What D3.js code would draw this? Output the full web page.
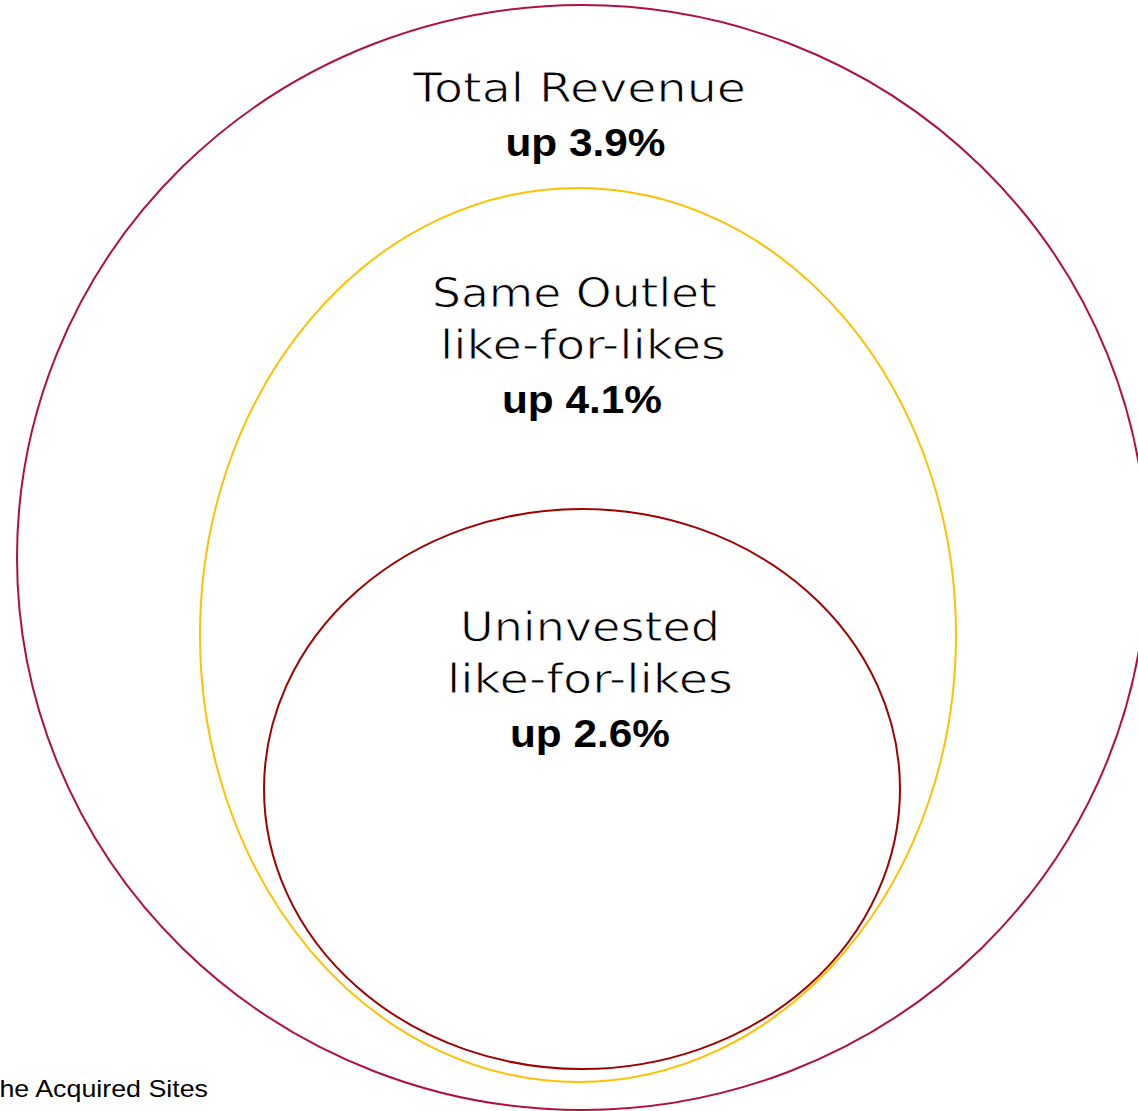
<!DOCTYPE html>
<html>
<head>
<meta charset="utf-8">
<script src="https://cdn.jsdelivr.net/npm/d3@7"></script>
<style>
  body { margin: 0; background: #fff; overflow: hidden; }
</style>
</head>
<body>
<div id="chart"></div>
<script>
// data
var groups = ["Total Revenue", "Same Outlet like-for-likes", "Uninvested like-for-likes"];
var labelLines = [["Total Revenue"], ["Same Outlet", "like-for-likes"], ["Uninvested", "like-for-likes"]];
var growth = [3.9, 4.1, 2.6];
var footnote = "the Acquired Sites";

var outerWidth = 1138;
var outerHeight = 1111;

// ellipse layout (pixels): cx, cy, rx, ry
var rings = [
  {cx: 582, cy: 557.5, rx: 565, ry: 552.5, color: "#b0103f"},
  {cx: 578, cy: 635, rx: 378, ry: 447, color: "#ffc000"},
  {cx: 582, cy: 789, rx: 318, ry: 280, color: "#a00000"}
];
// label layout: first baseline, centres and widths of each line
var labelTop = [102, 307, 641];
var lineCenter = [[579.5], [574.5, 583], [590, 590]];
var lineWidth = [[333], [285, 286], [260, 286]];
var upCenter = [585.5, 582, 590];
var upWidth = 160;

var svg = d3.select("#chart").append("svg")
  .attr("width", outerWidth).attr("height", outerHeight);

var pct = d3.format(".1f");

svg.selectAll("ellipse.ring")
  .data(rings)
  .join("ellipse")
  .attr("class", "ring")
  .attr("cx", function (d) { return d.cx; })
  .attr("cy", function (d) { return d.cy; })
  .attr("rx", function (d) { return d.rx; })
  .attr("ry", function (d) { return d.ry; })
  .style("fill", "none")
  .style("stroke", function (d) { return d.color; })
  .style("stroke-width", 2);

groups.forEach(function (name, i) {
  var g = svg.append("g").attr("class", "label");
  labelLines[i].forEach(function (line, j) {
    // thin wide face: white outline shaves the glyph stems a little
    g.append("text")
      .attr("x", lineCenter[i][j]).attr("y", labelTop[i] + j * 52)
      .attr("text-anchor", "middle")
      .attr("font-family", "DejaVu Sans")
      .attr("font-size", "40px")
      .attr("textLength", lineWidth[i][j])
      .attr("lengthAdjust", "spacingAndGlyphs")
      .attr("fill", "#000")
      .attr("stroke", "#fff")
      .attr("stroke-width", 0.9)
      .text(line);
  });
  g.append("text")
    .attr("x", upCenter[i])
    .attr("y", labelTop[i] + (labelLines[i].length - 1) * 52 + 54)
    .attr("text-anchor", "middle")
    .attr("font-family", "Liberation Sans, Arial, sans-serif")
    .attr("font-weight", "bold")
    .attr("font-size", "38px")
    .attr("textLength", upWidth)
    .attr("lengthAdjust", "spacingAndGlyphs")
    .attr("fill", "#000")
    .text("up " + pct(growth[i]) + "%");
});

svg.append("text")
  .attr("x", 208).attr("y", 1097)
  .attr("text-anchor", "end")
  .attr("font-family", "Liberation Sans, Arial, sans-serif")
  .attr("font-size", "24px")
  .attr("textLength", 216)
  .attr("lengthAdjust", "spacingAndGlyphs")
  .attr("fill", "#000")
  .text(footnote);
</script>
</body>
</html>
